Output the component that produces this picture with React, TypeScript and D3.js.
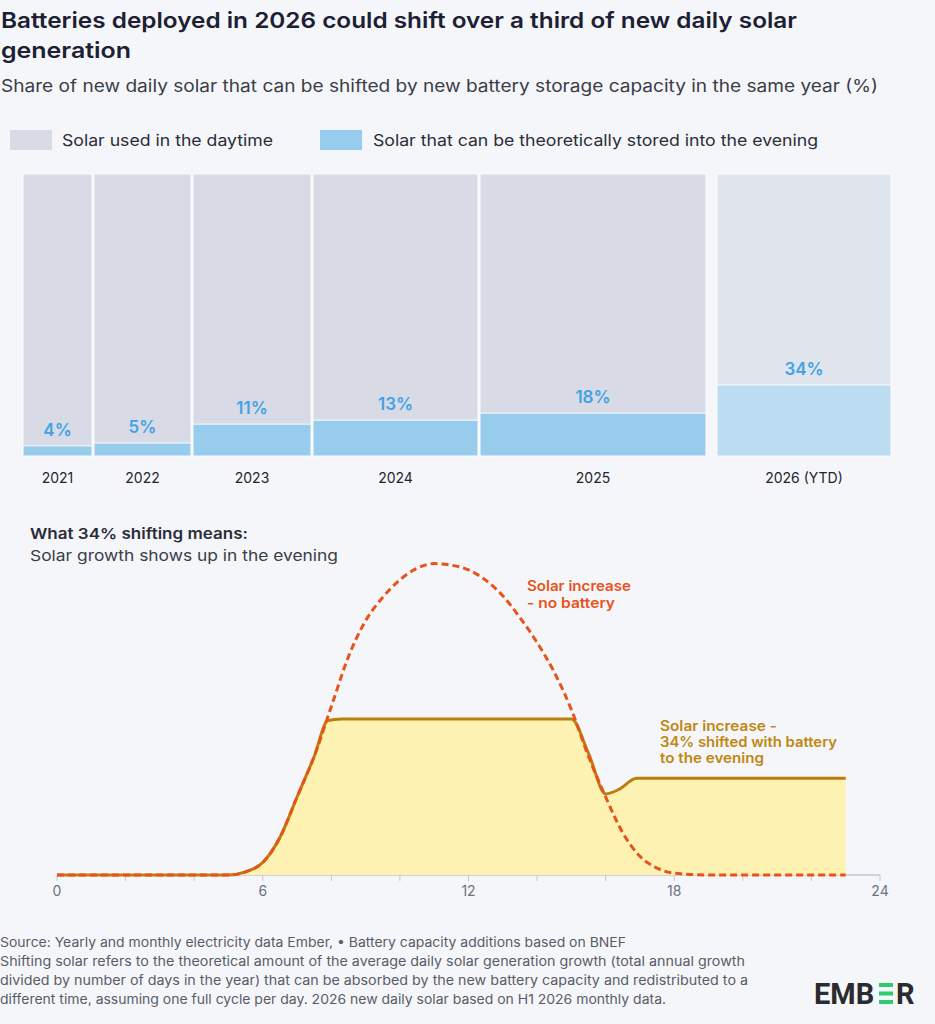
import React from 'react';
import * as d3 from 'd3';

// Bar chart data
const years = ['2021', '2022', '2023', '2024', '2025', '2026 (YTD)'];
const newDailySolar = [69, 97, 118, 165, 226, 174]; // relative size
const shiftedLabel = [4, 5, 11, 13, 18, 34]; // printed share (%)
const shiftedDrawn = [3.6, 4.6, 11.3, 12.7, 15.2, 25.2]; // drawn blue height (% of bar)

// Daily profile data (hour of day, relative output)
const noBatteryHours = [0, 1, 2, 3, 4, 5, 5.5, 6, 6.5, 7, 7.5, 8, 8.5, 9, 9.5, 10, 10.5, 11, 11.5, 12, 12.5, 13, 13.5, 14, 14.5, 15, 15.5, 16, 16.5, 17, 17.5, 18, 19, 20, 21, 22, 23];
const noBatteryValues = [0, 0, 0, 0, 0, 0, 1, 4, 12, 25, 38, 54, 70, 81.5, 89, 94.6, 98.3, 99.8, 99.3, 97.8, 94.5, 89.5, 82.5, 74.5, 65, 53, 38, 25, 13.5, 6, 2.2, 0.6, 0, 0, 0, 0, 0];
const batteryHours = [0, 1, 2, 3, 4, 5, 5.5, 6, 6.5, 7, 7.5, 7.9, 8.3, 10, 12, 14, 15, 15.5, 16, 16.4, 16.9, 18, 20, 22, 23];
const batteryValues = [0, 0, 0, 0, 0, 0, 1, 4, 12, 25, 38, 49.5, 50, 50, 50, 50, 50, 39, 26, 27.5, 31, 31, 31, 31, 31];
const hourTicks = [0, 2, 4, 6, 8, 10, 12, 14, 16, 18, 20, 22, 24];
const hourLabels = [0, 6, 12, 18, 24];

const FONT = 'Inter, "Noto Sans", sans-serif';

// text stretched to the measured width of the original typeface
const Fit = ({ x, y, w, children, ...rest }: any) => (
  <text x={x} y={y} textLength={w} lengthAdjust="spacingAndGlyphs" {...rest}>{children}</text>
);

export default function App() {
  const W = 935;
  const H = 1024;

  // Marimekko layout
  const gaps = [2, 2, 2, 2, 11];
  const barLeft = 23;
  const barRight = 891;
  const wScale = d3.scaleLinear()
    .domain([0, d3.sum(newDailySolar)])
    .range([0, barRight - barLeft - d3.sum(gaps)]);
  const bars = newDailySolar.map((v, i) => {
    const x0 = barLeft + wScale(d3.sum(newDailySolar.slice(0, i))) + d3.sum(gaps.slice(0, i));
    return { x0, w: wScale(v), i };
  });
  const yBar = d3.scaleLinear().domain([0, 100]).range([456, 174]);

  // Line chart
  const x = d3.scaleLinear().domain([0, 24]).range([57, 880]);
  const y = d3.scaleLinear().domain([0, 100]).range([875, 563]);
  const noBat = noBatteryHours.map((h, i) => [h, noBatteryValues[i]] as [number, number]);
  const bat = batteryHours.map((h, i) => [h, batteryValues[i]] as [number, number]);
  const line = d3.line<[number, number]>()
    .x(d => x(d[0]))
    .y(d => y(d[1]))
    .curve(d3.curveMonotoneX);
  const area = d3.area<[number, number]>()
    .x(d => x(d[0]))
    .y0(y(0))
    .y1(d => y(d[1]))
    .curve(d3.curveMonotoneX);

  return (
    <svg width={W} height={H} style={{ position: 'absolute', left: 0, top: 0 }} fontFamily={FONT}>
      <rect width={W} height={H} fill="#f5f6fa" />

      {/* Title */}
      <Fit x={1} y={28} w={796} fontSize={22} fontWeight={600} fill="#1c2033">
        Batteries deployed in 2026 could shift over a third of new daily solar
      </Fit>
      <Fit x={1} y={58} w={130} fontSize={22} fontWeight={600} fill="#1c2033">generation</Fit>
      <Fit x={1} y={92} w={877} fontSize={17} fill="#3a3d48">
        Share of new daily solar that can be shifted by new battery storage capacity in the same year (%)
      </Fit>

      {/* Legend */}
      <rect x={10} y={130} width={42} height={20} fill="#d8dae5" />
      <Fit x={62} y={146} w={211} fontSize={16} fill="#2a2d38">Solar used in the daytime</Fit>
      <rect x={320} y={130} width={42} height={20} fill="#98cced" />
      <Fit x={373} y={146} w={445} fontSize={16} fill="#2a2d38">Solar that can be theoretically stored into the evening</Fit>

      {/* Bars */}
      {bars.map(b => {
        const ytd = b.i === 5;
        const top = yBar(shiftedDrawn[b.i]);
        return (
          <g key={years[b.i]}>
            <rect x={b.x0} y={yBar(100)} width={b.w} height={yBar(0) - yBar(100)}
              fill={ytd ? '#e0e4ed' : '#d8dae5'} stroke="#fbfcfe" strokeWidth={1} />
            <rect x={b.x0} y={top} width={b.w} height={yBar(0) - top}
              fill={ytd ? '#bcdcf1' : '#98cced'} stroke="#fbfcfe" strokeWidth={1} />
            <text x={b.x0 + b.w / 2} y={top - 10} textAnchor="middle" fontSize={17}
              fontWeight={600} fill="#3fa3e6">{shiftedLabel[b.i]}%</text>
            <text x={b.x0 + b.w / 2} y={483} textAnchor="middle" fontSize={14} fill="#23252e">
              {years[b.i]}
            </text>
          </g>
        );
      })}

      {/* Line chart header */}
      <Fit x={30} y={539} w={218} fontSize={15} fontWeight={600} fill="#2a2d38">What 34% shifting means:</Fit>
      <Fit x={30} y={561} w={308} fontSize={15} fill="#3a3d48">Solar growth shows up in the evening</Fit>

      {/* Axis */}
      <line x1={x(0)} x2={x(24)} y1={y(0)} y2={y(0)} stroke="#c3c7d3" strokeWidth={1.5} />
      {hourTicks.map(t => (
        <line key={t} x1={x(t)} x2={x(t)} y1={y(0)} y2={y(0) + 6} stroke="#c3c7d3" strokeWidth={1} />
      ))}
      {hourLabels.map(t => (
        <text key={t} x={x(t)} y={896} textAnchor="middle" fontSize={14} fill="#6b7285">{t}</text>
      ))}

      {/* Series */}
      <path d={area(bat) || ''} fill="#fef2b3" />
      <path d={line(bat) || ''} fill="none" stroke="#bb7e0c" strokeWidth={3} strokeLinejoin="round" />
      <path d={line(noBat) || ''} fill="none" stroke="#e8531b" strokeWidth={3} strokeDasharray="7 4" />

      {/* Annotations */}
      <g fontSize={14} fontWeight={600} fill="#e8531b">
        <Fit x={527} y={591} w={104}>Solar increase</Fit>
        <Fit x={527} y={608} w={88}>- no battery</Fit>
      </g>
      <g fontSize={14} fontWeight={600} fill="#c0870f">
        <Fit x={660} y={731} w={117}>Solar increase -</Fit>
        <Fit x={660} y={747} w={177}>34% shifted with battery</Fit>
        <Fit x={660} y={763} w={104}>to the evening</Fit>
      </g>

      {/* Footer */}
      <g fontSize={13} fill="#585c68">
        <Fit x={0} y={947} w={626}>Source: Yearly and monthly electricity data Ember, • Battery capacity additions based on BNEF</Fit>
        <Fit x={0} y={966} w={745}>Shifting solar refers to the theoretical amount of the average daily solar generation growth (total annual growth</Fit>
        <Fit x={0} y={985} w={748}>divided by number of days in the year) that can be absorbed by the new battery capacity and redistributed to a</Fit>
        <Fit x={0} y={1004} w={666}>different time, assuming one full cycle per day. 2026 new daily solar based on H1 2026 monthly data.</Fit>
      </g>

      {/* Logo */}
      <g fontFamily="Roboto, sans-serif" fontWeight={700} fontSize={29} fill="#2b2b2d">
        <text x={814} y={1004}>EMB</text>
        <rect x={879} y={983} width={14} height={4} fill="#2ecc71" />
        <rect x={879} y={991.5} width={14} height={4} fill="#2ecc71" />
        <rect x={879} y={1000} width={14} height={4} fill="#2ecc71" />
        <text x={896} y={1004}>R</text>
      </g>
    </svg>
  );
}
